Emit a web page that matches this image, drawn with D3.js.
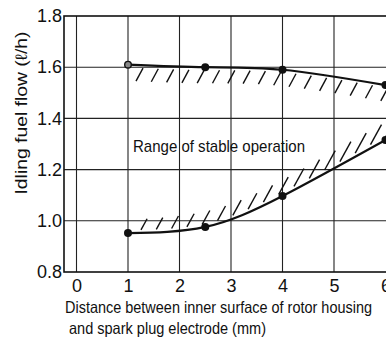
<!DOCTYPE html>
<html>
<head>
<meta charset="utf-8">
<script src="https://cdn.jsdelivr.net/npm/d3@7"></script>
<style>
  html, body { margin: 0; padding: 0; background: #fff; }
  svg { display: block; }
  text { font-family: "Liberation Sans", Arial, sans-serif; fill: #111; }
</style>
</head>
<body>
<div id="chart"></div>
<script>
// data
const upperX = [1, 2.5, 4, 6];
const upperY = [1.61, 1.60, 1.59, 1.53];
const lowerX = [1, 2.5, 4, 6];
const lowerY = [0.952, 0.976, 1.097, 1.316];
const xTicks = [0, 1, 2, 3, 4, 5, 6];
const yTicks = [0.8, 1.0, 1.2, 1.4, 1.6, 1.8];
const xGrid = [0, 1, 2, 3, 4, 5];
const yGrid = [1.0, 1.2, 1.4, 1.6];

const width = 386, height = 340;
const frame = {left: 64, top: 16, right: 386, bottom: 272};

const svg = d3.select("#chart").append("svg")
    .attr("width", width)
    .attr("height", height);

const xScale = d3.scaleLinear().domain([0, 6]).range([76.5, 385.5]);
const yScale = d3.scaleLinear().domain([0.8, 1.8]).range([frame.bottom, frame.top]);

// grid
svg.append("g").selectAll("line").data(xGrid).enter().append("line")
    .attr("x1", d => xScale(d)).attr("x2", d => xScale(d))
    .attr("y1", frame.top).attr("y2", frame.bottom)
    .attr("stroke", "#222").attr("stroke-width", 1.1);
svg.append("g").selectAll("line").data(yGrid).enter().append("line")
    .attr("x1", frame.left).attr("x2", frame.right)
    .attr("y1", d => yScale(d)).attr("y2", d => yScale(d))
    .attr("stroke", "#222").attr("stroke-width", 1.1);

// frame
svg.append("rect")
    .attr("x", frame.left).attr("y", frame.top)
    .attr("width", frame.right - frame.left + 2)
    .attr("height", frame.bottom - frame.top)
    .attr("fill", "none").attr("stroke", "#111").attr("stroke-width", 1.6);

// axes (labels only)
const yAxis = svg.append("g")
    .attr("transform", `translate(${frame.left},0)`)
    .call(d3.axisLeft(yScale).tickValues(yTicks).tickFormat(d3.format(".1f")).tickSize(0).tickPadding(2));
yAxis.select(".domain").remove();
yAxis.selectAll("text").attr("font-size", 18).style("font-family", "Liberation Sans, Arial, sans-serif").attr("fill", "#111");

const xAxis = svg.append("g")
    .attr("transform", `translate(0,${frame.bottom})`)
    .call(d3.axisBottom(xScale).tickValues(xTicks).tickFormat(d3.format("d")).tickSize(0).tickPadding(7));
xAxis.select(".domain").remove();
xAxis.selectAll("text").attr("font-size", 18).style("font-family", "Liberation Sans, Arial, sans-serif").attr("fill", "#111");

// curves
const upper = upperX.map((x, i) => ({x: x, y: upperY[i]}));
const lower = lowerX.map((x, i) => ({x: x, y: lowerY[i]}));

const line = d3.line()
    .x(d => xScale(d.x))
    .y(d => yScale(d.y))
    .curve(d3.curveNatural);

function drawCurve(data) {
    return svg.append("path")
        .datum(data)
        .attr("d", line)
        .attr("fill", "none")
        .attr("stroke", "#111")
        .attr("stroke-width", 2.2);
}
const upperPath = drawCurve(upper);
const lowerPath = drawCurve(lower);

// sample path to find y at a pixel x
function yAtX(pathSel, px) {
    const node = pathSel.node();
    const len = node.getTotalLength();
    let lo = 0, hi = len;
    for (let k = 0; k < 30; k++) {
        const mid = (lo + hi) / 2;
        if (node.getPointAtLength(mid).x < px) lo = mid; else hi = mid;
    }
    return node.getPointAtLength(lo).y;
}

// hatching: below upper curve, above lower curve
const hatch = svg.append("g").attr("stroke", "#111").attr("stroke-width", 1.4);
for (let px = 139; px <= 388; px += 15.3) {
    const cy = yAtX(upperPath, px);
    hatch.append("line")
        .attr("x1", px + 4).attr("y1", cy + 3)
        .attr("x2", px - 3).attr("y2", cy + 16);
}
for (let px = 142; px <= 388; px += 15.3) {
    const cy = yAtX(lowerPath, px);
    const t = Math.min(1, Math.max(0, (px - 140) / 200));
    const h = 11 + 9 * t;
    hatch.append("line")
        .attr("x1", px - 1).attr("y1", cy - 3)
        .attr("x2", px - 1 + h * 0.55).attr("y2", cy - 3 - h);
}

// points
svg.append("g").selectAll("circle")
    .data(upper.slice(1).concat(lower))
    .enter().append("circle")
    .attr("cx", d => xScale(d.x))
    .attr("cy", d => yScale(d.y))
    .attr("r", 4)
    .attr("fill", "#111");
svg.append("circle")
    .attr("cx", xScale(upper[0].x))
    .attr("cy", yScale(upper[0].y))
    .attr("r", 3.3)
    .attr("fill", "#888")
    .attr("stroke", "#111")
    .attr("stroke-width", 1.4);

// annotation
svg.append("text")
    .attr("x", 133).attr("y", 152)
    .attr("font-size", 17)
    .attr("textLength", 172).attr("lengthAdjust", "spacingAndGlyphs")
    .text("Range of stable operation");

// axis titles
svg.append("text")
    .attr("x", 65).attr("y", 313)
    .attr("font-size", 16.5)
    .attr("textLength", 307).attr("lengthAdjust", "spacingAndGlyphs")
    .text("Distance between inner surface of rotor housing");
svg.append("text")
    .attr("x", 69).attr("y", 334)
    .attr("font-size", 16.5)
    .attr("textLength", 197).attr("lengthAdjust", "spacingAndGlyphs")
    .text("and spark plug electrode (mm)");

svg.append("text")
    .attr("transform", "translate(27,113) rotate(-90)")
    .attr("text-anchor", "middle")
    .attr("font-size", 16.5)
    .attr("textLength", 163).attr("lengthAdjust", "spacingAndGlyphs")
    .text("Idling fuel flow (ℓ/h)");
</script>
</body>
</html>
